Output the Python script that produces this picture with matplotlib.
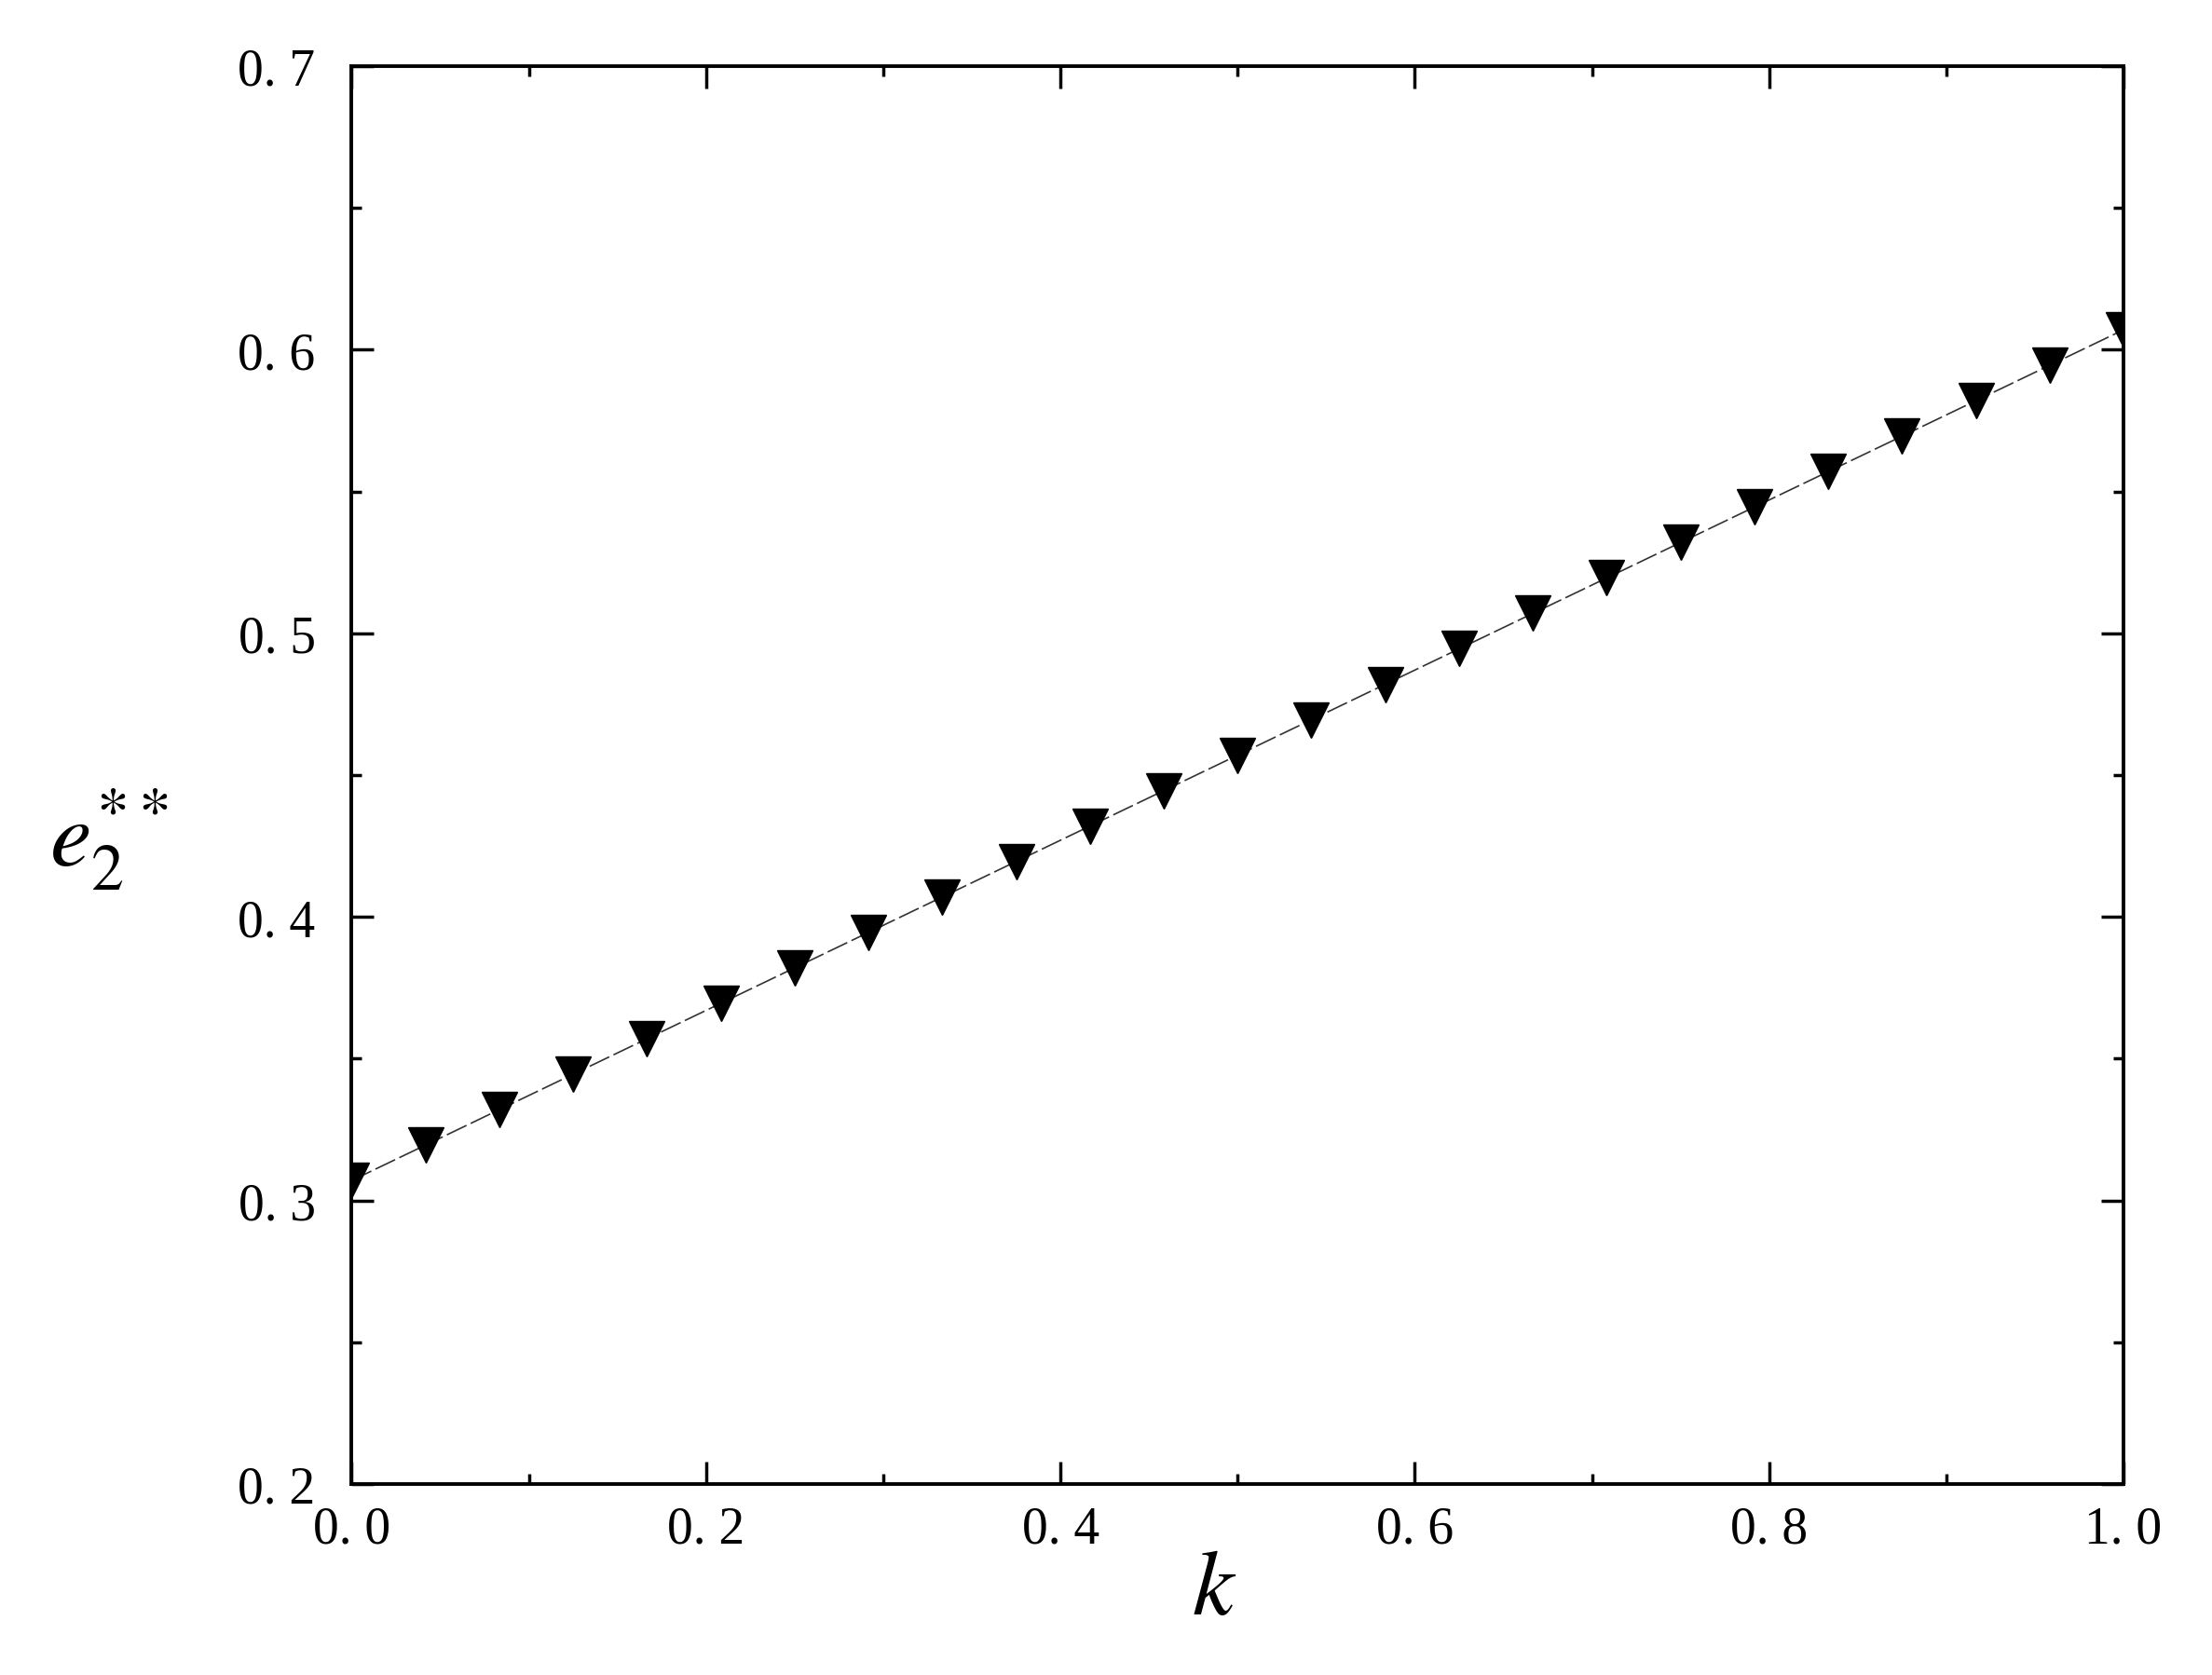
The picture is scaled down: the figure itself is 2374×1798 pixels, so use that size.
import matplotlib
matplotlib.use("Agg")
import matplotlib.pyplot as plt
from matplotlib.ticker import MultipleLocator, FuncFormatter

k_values = [i / 24 for i in range(25)]
e2_values = [0.307, 0.3195, 0.332, 0.3445, 0.357, 0.3695, 0.382, 0.3945, 0.407,
             0.4195, 0.432, 0.4445, 0.457, 0.4695, 0.482, 0.4945, 0.507, 0.5195,
             0.532, 0.5445, 0.557, 0.5695, 0.582, 0.5945, 0.607]
x_ticks = [0.0, 0.2, 0.4, 0.6, 0.8, 1.0]
y_ticks = [0.2, 0.3, 0.4, 0.5, 0.6, 0.7]

plt.rcParams['mathtext.fontset'] = 'stix'
plt.rcParams['font.family'] = ['Liberation Serif', 'DejaVu Serif']

fig = plt.figure(figsize=(23.74, 17.99), dpi=100)
ax = fig.add_axes([0.159, 0.114, 0.801, 0.846])

ax.plot(k_values, e2_values, color='#333333', lw=1.2, dashes=[14, 3],
        marker='v', markersize=27, markerfacecolor='black', markeredgecolor='black')

ax.set_xlim(0, 1)
ax.set_ylim(0.2, 0.7)
ax.set_xticks(x_ticks)
ax.set_yticks(y_ticks)
ax.xaxis.set_minor_locator(MultipleLocator(0.1))
ax.yaxis.set_minor_locator(MultipleLocator(0.05))
fmt = FuncFormatter(lambda v, p: f"{v:.1f}".replace('.', '. '))
ax.xaxis.set_major_formatter(fmt)
ax.yaxis.set_major_formatter(fmt)

ax.tick_params(which='both', direction='in', top=True, right=True, width=2.5,
               labelsize=40, colors='black')
ax.tick_params(which='major', length=17)
ax.tick_params(axis='x', which='major', pad=16)
ax.tick_params(axis='y', which='major', pad=28)
ax.tick_params(which='minor', length=8)
for s in ax.spines.values():
    s.set_linewidth(2.8)

ax.set_xlabel(r'$k$', fontsize=72)
ax.xaxis.set_label_coords(0.487, -0.046)
ax.set_ylabel(r'$e_2^{**}$', fontsize=72, rotation=0, va='center', ha='center')
ax.yaxis.set_label_coords(-0.137, 0.455)

fig.savefig('out.png', dpi=100)
